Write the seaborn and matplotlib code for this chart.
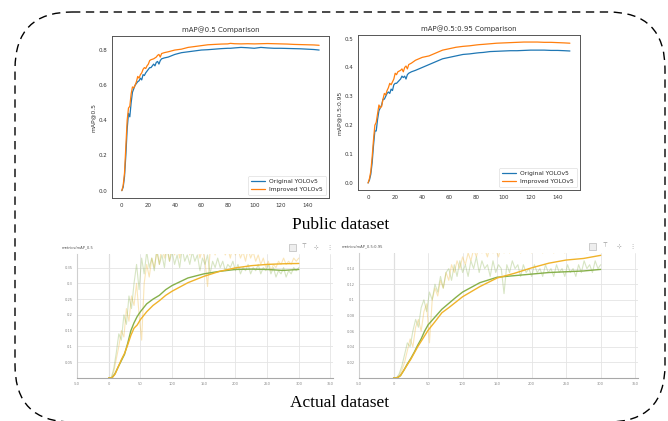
import numpy as np
import pandas as pd
import matplotlib
matplotlib.use("Agg")
import matplotlib.pyplot as plt
from matplotlib.patches import FancyBboxPatch, Rectangle
import seaborn as sns

sns.set_style("white")
plt.rcParams["font.family"] = ["DejaVu Sans"]

# ---------------- public dataset (150 epochs) ----------------
epochs_pub = [0, 1, 2, 3, 4, 5, 6, 7, 8, 9, 10, 11, 12, 13, 14, 15, 16, 17, 18, 19, 20, 21, 22,
              24, 25, 26, 27, 28, 29, 30, 32, 35, 40, 45, 50, 55, 60, 65, 70, 75, 80, 82, 85,
              90, 95, 100, 105, 110, 115, 120, 125, 130, 135, 140, 145, 149]

map50_original = [0.0, 0.02, 0.08, 0.20, 0.35, 0.44, 0.42, 0.50, 0.56, 0.58, 0.60, 0.61, 0.62,
                  0.625, 0.64, 0.63, 0.66, 0.655, 0.67, 0.68, 0.69, 0.70, 0.70,
                  0.72, 0.71, 0.73, 0.735, 0.72, 0.74, 0.75, 0.755, 0.76, 0.775, 0.785, 0.79,
                  0.795, 0.80, 0.802, 0.805, 0.808, 0.81, 0.81, 0.812,
                  0.815, 0.813, 0.81, 0.815, 0.812, 0.81, 0.81, 0.809, 0.808, 0.807, 0.805,
                  0.803, 0.80]
map50_improved = [0.0, 0.03, 0.10, 0.25, 0.40, 0.47, 0.48, 0.55, 0.59, 0.585, 0.60, 0.62, 0.65,
                  0.64, 0.66, 0.67, 0.69, 0.70, 0.695, 0.71, 0.72, 0.74, 0.745,
                  0.75, 0.755, 0.76, 0.77, 0.775, 0.76, 0.78, 0.785, 0.79, 0.80, 0.805, 0.815,
                  0.82, 0.825, 0.83, 0.832, 0.834, 0.835, 0.838, 0.836,
                  0.835, 0.836, 0.835, 0.836, 0.837, 0.836, 0.835, 0.834, 0.832, 0.831, 0.83,
                  0.829, 0.827]

map5095_original = [0.0, 0.01, 0.03, 0.07, 0.13, 0.18, 0.18, 0.22, 0.25, 0.26, 0.27, 0.29, 0.29,
                    0.30, 0.31, 0.315, 0.31, 0.325, 0.32, 0.34, 0.345, 0.345, 0.35,
                    0.36, 0.37, 0.365, 0.37, 0.36, 0.375, 0.38, 0.385, 0.39, 0.40, 0.41, 0.42,
                    0.43, 0.435, 0.44, 0.445, 0.447, 0.45, 0.451, 0.452,
                    0.455, 0.456, 0.457, 0.458, 0.458, 0.459, 0.46, 0.46, 0.46, 0.459, 0.459,
                    0.458, 0.457]
map5095_improved = [0.0, 0.015, 0.04, 0.09, 0.15, 0.20, 0.21, 0.24, 0.27, 0.26, 0.265, 0.29, 0.31,
                    0.305, 0.32, 0.33, 0.345, 0.34, 0.35, 0.36, 0.38, 0.375, 0.385,
                    0.39, 0.395, 0.385, 0.40, 0.405, 0.395, 0.41, 0.415, 0.425, 0.435, 0.44, 0.45,
                    0.46, 0.465, 0.47, 0.473, 0.475, 0.478, 0.479, 0.48,
                    0.482, 0.484, 0.485, 0.486, 0.487, 0.488, 0.488, 0.488, 0.487, 0.487, 0.486,
                    0.485, 0.484]

# ---------------- actual dataset (300 epochs, TensorBoard export) ----------------
epochs_raw = list(range(0, 301, 4))

raw50_green = [0.0, 0.0, 0.03, 0.08, 0.14, 0.12, 0.20, 0.17, 0.26, 0.22,
               0.30, 0.36, 0.28, 0.38, 0.33, 0.40, 0.35, 0.38, 0.34, 0.41,
               0.36, 0.39, 0.35, 0.42, 0.37, 0.40, 0.36, 0.39, 0.35, 0.41,
               0.37, 0.39, 0.36, 0.40, 0.37, 0.39, 0.34, 0.38, 0.36, 0.39,
               0.33, 0.37, 0.35, 0.38, 0.35, 0.37, 0.34, 0.36, 0.35, 0.37,
               0.34, 0.36, 0.33, 0.35, 0.34, 0.36, 0.33, 0.35, 0.34, 0.36,
               0.33, 0.35, 0.34, 0.36, 0.33, 0.35, 0.32, 0.34, 0.33, 0.35,
               0.32, 0.34, 0.33, 0.35, 0.34, 0.35]
raw50_orange = [0.0, 0.0, 0.02, 0.06, 0.10, 0.15, 0.13, 0.22, 0.18, 0.26,
                0.23, 0.30, 0.20, 0.12, 0.30, 0.36, 0.32, 0.38, 0.35, 0.40,
                0.36, 0.42, 0.38, 0.41, 0.37, 0.43, 0.39, 0.42, 0.38, 0.44,
                0.40, 0.42, 0.39, 0.43, 0.40, 0.42, 0.38, 0.41, 0.37, 0.29,
                0.40, 0.42, 0.39, 0.43, 0.40, 0.42, 0.39, 0.41, 0.38, 0.42,
                0.39, 0.41, 0.38, 0.40, 0.37, 0.41, 0.38, 0.40, 0.37, 0.39,
                0.36, 0.38, 0.35, 0.37, 0.34, 0.36, 0.35, 0.37, 0.36, 0.38,
                0.36, 0.37, 0.36, 0.38, 0.37, 0.38]

raw5095_green = [0.0, 0.0, 0.005, 0.015, 0.03, 0.045, 0.04, 0.06, 0.075, 0.065,
                 0.09, 0.10, 0.085, 0.11, 0.10, 0.12, 0.11, 0.13, 0.115, 0.135,
                 0.14, 0.125, 0.145, 0.13, 0.15, 0.135, 0.145, 0.13, 0.15, 0.14,
                 0.155, 0.135, 0.15, 0.14, 0.145, 0.13, 0.15, 0.135, 0.145, 0.14,
                 0.108, 0.145, 0.135, 0.15, 0.14, 0.145, 0.13, 0.145, 0.135, 0.14,
                 0.13, 0.145, 0.135, 0.14, 0.13, 0.145, 0.135, 0.14, 0.13, 0.145,
                 0.135, 0.14, 0.13, 0.145, 0.135, 0.14, 0.13, 0.145, 0.135, 0.15,
                 0.14, 0.145, 0.135, 0.15, 0.14, 0.145]
raw5095_orange = [0.0, 0.0, 0.003, 0.01, 0.02, 0.035, 0.05, 0.04, 0.065, 0.075,
                  0.06, 0.085, 0.095, 0.045, 0.10, 0.115, 0.105, 0.125, 0.115, 0.135,
                  0.125, 0.145, 0.135, 0.15, 0.14, 0.155, 0.145, 0.16, 0.15, 0.165,
                  0.155, 0.17, 0.16, 0.165, 0.155, 0.17, 0.16, 0.165, 0.155, 0.17,
                  0.16, 0.17, 0.16, 0.175, 0.165, 0.17, 0.16, 0.175, 0.165, 0.17,
                  0.16, 0.175, 0.165, 0.17, 0.16, 0.175, 0.165, 0.17, 0.16, 0.175,
                  0.165, 0.17, 0.16, 0.175, 0.165, 0.17, 0.16, 0.175, 0.165, 0.17,
                  0.16, 0.175, 0.165, 0.17, 0.165, 0.17]

epochs_smooth = [0, 5, 10, 15, 20, 25, 30, 35, 40, 45, 50, 60, 70, 80, 90, 100,
                 125, 150, 175, 200, 225, 250, 275, 300]
smooth50_green = [0.0, 0.0, 0.014, 0.035, 0.055, 0.075, 0.11, 0.15, 0.175, 0.195, 0.21, 0.235,
                  0.25, 0.262, 0.28, 0.293, 0.317, 0.33, 0.338, 0.344, 0.345, 0.344, 0.341, 0.344]
smooth50_orange = [0.0, 0.0, 0.012, 0.035, 0.058, 0.078, 0.105, 0.135, 0.158, 0.168, 0.185, 0.21,
                   0.23, 0.245, 0.262, 0.275, 0.302, 0.322, 0.338, 0.349, 0.356, 0.36, 0.362, 0.363]
smooth5095_green = [0.0, 0.0, 0.003, 0.01, 0.018, 0.025, 0.033, 0.042, 0.05, 0.06, 0.068, 0.078,
                    0.088, 0.0955, 0.103, 0.11, 0.122, 0.129, 0.131, 0.133, 0.135, 0.136, 0.137, 0.139]
smooth5095_orange = [0.0, 0.0, 0.003, 0.01, 0.017, 0.024, 0.032, 0.04, 0.047, 0.054, 0.061, 0.072,
                     0.0835, 0.09, 0.097, 0.104, 0.117, 0.128, 0.134, 0.141, 0.147, 0.151, 0.153, 0.157]

tb_xticks = [-50, 0, 50, 100, 150, 200, 250, 300, 350]

W, H = 668, 421
fig = plt.figure(figsize=(W / 100, H / 100), dpi=100)
fig.patch.set_facecolor("white")


def px_axes(left, top, right, bottom, **kw):
    return fig.add_axes([left / W, 1 - bottom / H, (right - left) / W, (bottom - top) / H], **kw)


# background layer: dashed rounded frame and captions
bg = fig.add_axes([0, 0, 1, 1], zorder=-5)
bg.set_xlim(0, W)
bg.set_ylim(H, 0)
bg.axis("off")
frame = FancyBboxPatch((15, 12), 650, 410, boxstyle="round,pad=0,rounding_size=57",
                       fill=False, edgecolor="black", linewidth=1.0,
                       linestyle=(0, (6, 4)))
bg.add_patch(frame)
bg.text(341, 225, "Public dataset", ha="center", va="center",
        family="Liberation Serif", fontsize=12.5, color="black")
bg.text(340, 403, "Actual dataset", ha="center", va="center",
        family="Liberation Serif", fontsize=12.5, color="black")

blue, orange = "#1f77b4", "#ff7f0e"


def public_panel(ax, y1, y2, title, ylabel, yticks):
    sns.lineplot(x=epochs_pub, y=y1, ax=ax, color=blue, linewidth=0.9,
                 label="Original YOLOv5", estimator=None)
    sns.lineplot(x=epochs_pub, y=y2, ax=ax, color=orange, linewidth=0.9,
                 label="Improved YOLOv5", estimator=None)
    ax.set_title(title, fontsize=5, color="#333333", pad=3)
    ax.set_ylabel(ylabel, fontsize=4.3, color="#333333", labelpad=2)
    ax.set_xlabel("")
    ax.set_xticks(range(0, 141, 20))
    ax.set_yticks(yticks)
    ax.set_yticklabels([f"{v:.1f}" for v in yticks])
    ax.tick_params(labelsize=4, colors="#333333", length=2, width=0.5, pad=1.5, direction="out")
    for s in ax.spines.values():
        s.set_color("#555555")
        s.set_linewidth(0.7)
    leg = ax.legend(loc="lower right", fontsize=4.3, frameon=True, handlelength=2.2,
                    borderpad=0.5, labelspacing=0.5)
    leg.get_frame().set_linewidth(0.4)
    leg.get_frame().set_edgecolor("#cccccc")


ax1 = px_axes(112, 36, 329, 198)
public_panel(ax1, map50_original, map50_improved, "mAP@0.5 Comparison", "mAP@0.5",
             [0.0, 0.2, 0.4, 0.6, 0.8])

ax2 = px_axes(358, 35, 580, 190)
public_panel(ax2, map5095_original, map5095_improved, "mAP@0.5:0.95 Comparison", "mAP@0.5:0.95",
             [0.0, 0.1, 0.2, 0.3, 0.4, 0.5])

tb_green, tb_orange = "#86b04a", "#f0b32a"


def tb_panel(ax, raw_g, raw_o, sm_g, sm_o, ylim, yticks, ylabels, title, title_xy, icon_x):
    sns.lineplot(x=epochs_raw, y=raw_o, ax=ax, color=tb_orange, alpha=0.33, linewidth=0.8,
                 estimator=None)
    sns.lineplot(x=epochs_raw, y=raw_g, ax=ax, color=tb_green, alpha=0.33, linewidth=0.8,
                 estimator=None)
    sns.lineplot(x=epochs_smooth, y=sm_g, ax=ax, color=tb_green, linewidth=1.0, estimator=None)
    sns.lineplot(x=epochs_smooth, y=sm_o, ax=ax, color=tb_orange, linewidth=1.0, estimator=None)
    ax.set_xlim(-50, 354)
    ax.set_ylim(*ylim)
    ax.set_xticks(tb_xticks)
    ax.set_xticklabels([str(t) for t in tb_xticks])
    ax.set_yticks(yticks)
    ax.set_yticklabels(ylabels)
    ax.grid(True, color="#e4e4e4", linewidth=0.6)
    ax.axvline(0, color="#c8c8c8", linewidth=0.8, zorder=0.5)
    ax.set_xlabel("")
    ax.set_ylabel("")
    ax.tick_params(labelsize=2.6, colors="#888888", length=0, pad=3)
    for side in ("top", "right"):
        ax.spines[side].set_visible(False)
    ax.spines["left"].set_color("#cfcfcf")
    ax.spines["left"].set_linewidth(0.8)
    ax.spines["bottom"].set_color("#a8a8a8")
    ax.spines["bottom"].set_linewidth(0.8)
    bg.text(title_xy[0], title_xy[1], title, fontsize=2.7, color="#555555",
            ha="left", va="center")
    iy = title_xy[1]
    bg.add_patch(Rectangle((icon_x[0] - 3.5, iy - 3.5), 7, 7, facecolor="#eeeeee",
                           edgecolor="#bbbbbb", linewidth=0.5))
    bg.text(icon_x[1], iy, "\u22a4", fontsize=4, color="#888888", ha="center", va="center")
    bg.text(icon_x[2], iy, "\u22b9", fontsize=4, color="#888888", ha="center", va="center")
    bg.text(icon_x[3], iy, "\u22ee", fontsize=4.5, color="#888888", ha="center", va="center")


ax3 = px_axes(77, 254, 333, 378)
tb_panel(ax3, raw50_green, raw50_orange, smooth50_green, smooth50_orange,
         (0, 0.393), [0.05, 0.1, 0.15, 0.2, 0.25, 0.3, 0.35],
         ["0.05", "0.1", "0.15", "0.2", "0.25", "0.3", "0.35"],
         "metrics/mAP_0.5", (62, 247), [292, 304, 316, 329])

ax4 = px_axes(359, 253, 638, 378)
tb_panel(ax4, raw5095_green, raw5095_orange, smooth5095_green, smooth5095_orange,
         (0, 0.16), [0.02, 0.04, 0.06, 0.08, 0.1, 0.12, 0.14],
         ["0.02", "0.04", "0.06", "0.08", "0.1", "0.12", "0.14"],
         "metrics/mAP_0.5:0.95", (342, 246), [592, 605, 619, 632])

fig.savefig("out.png", dpi=100)
